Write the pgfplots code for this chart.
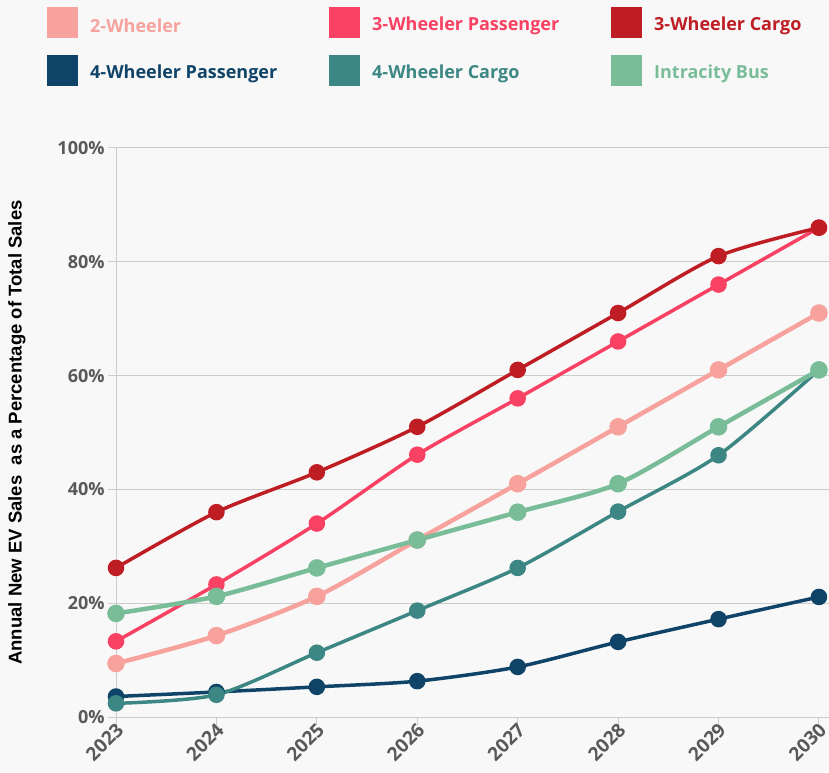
\documentclass[border=0pt]{standalone}
\usepackage{pgfplots}
\pgfplotsset{compat=1.18}
\usepackage{fontspec}
\setmainfont{Open Sans}
\newfontfamily\labelfont{Liberation Sans}
\definecolor{bg}{HTML}{F8F8F8}
\definecolor{cTwo}{HTML}{F7A29C}
\definecolor{cThreeP}{HTML}{F94263}
\definecolor{cThreeC}{HTML}{BE1D24}
\definecolor{cFourP}{HTML}{0F4468}
\definecolor{cFourC}{HTML}{3C8783}
\definecolor{cBus}{HTML}{79BD98}
\definecolor{gridc}{HTML}{CCCCCC}
\definecolor{tickc}{HTML}{595959}
\begin{document}
\begin{tikzpicture}
\useasboundingbox (0pt,0pt) rectangle (829pt,772pt);
\fill[bg] (0pt,0pt) rectangle (829pt,772pt);
% legend
\foreach \c/\t/\x/\y in {cTwo/2-Wheeler/47/749, cThreeP/3-Wheeler Passenger/329/749, cThreeC/3-Wheeler Cargo/611/749, cFourP/4-Wheeler Passenger/47/701, cFourC/4-Wheeler Cargo/329/701, cBus/Intracity Bus/611/701}{
  \fill[\c] (\x pt,\y pt-15.5pt) rectangle (\x pt+31pt,\y pt+15.5pt);
  \node[anchor=west,inner sep=0pt,text=\c,font=\fontsize{18}{20}\selectfont\bfseries] at (\x pt+43pt,\y pt-3pt) {\t};
}
\begin{axis}[
  at={(116pt,55pt)}, anchor=south west,
  scale only axis, width=713pt, height=569pt,
  xmin=2023, xmax=2030.1, ymin=0, ymax=100,
  axis x line*=bottom, axis y line*=left,
  axis line style={gridc, line width=1pt},
  xtick={2023,...,2030}, ytick={0,20,...,100},
  yticklabel={\pgfmathprintnumber{\tick}\%},
  xticklabel style={rotate=45, anchor=east, font=\fontsize{19}{21}\selectfont\bfseries, text=tickc, xshift=5pt, yshift=-4pt},
  yticklabel style={font=\fontsize{18}{20}\selectfont\bfseries, text=tickc},
  x tick label style={/pgf/number format/.cd, set thousands separator={}},
  /pgf/number format/assume math mode=true,
  ymajorgrids, grid style={gridc, line width=1pt},
  tick align=outside, major tick length=8pt,
  tick style={gridc, line width=1pt},
  ylabel={Annual New EV Sales\ \ as a Percentage of Total Sales},
  ylabel style={at={(axis description cs:-0.139,0.5)}, anchor=center, font=\labelfont\fontsize{18.5}{20}\selectfont\bfseries, text=black},
  clip=false,
  every axis plot/.append style={line width=3.5pt, smooth, tension=0.45,
    mark=*, mark size=6.5pt, mark options={draw=white, line width=1.2pt}},
]
% 2-Wheeler
\addplot[cTwo, line width=4.5pt, mark options={fill=cTwo}] coordinates {(2023,9.4) (2024,14.3) (2025,21.2) (2026,31.1) (2027,41) (2028,51) (2029,61) (2030,71)};
% 3-Wheeler Passenger
\addplot[cThreeP, mark options={fill=cThreeP}] coordinates {(2023,13.3) (2024,23.3) (2025,34) (2026,46.1) (2027,56) (2028,66) (2029,76) (2030,86)};
% 3-Wheeler Cargo
\addplot[cThreeC, mark options={fill=cThreeC}] coordinates {(2023,26.2) (2024,36) (2025,43) (2026,51) (2027,61) (2028,71) (2029,81) (2030,86)};
% 4-Wheeler Passenger
\addplot[cFourP, mark options={fill=cFourP}] coordinates {(2023,3.6) (2024,4.4) (2025,5.3) (2026,6.3) (2027,8.8) (2028,13.2) (2029,17.2) (2030,21.1)};
% 4-Wheeler Cargo
\addplot[cFourC, mark options={fill=cFourC}] coordinates {(2023,2.4) (2024,3.9) (2025,11.3) (2026,18.7) (2027,26.2) (2028,36.1) (2029,46) (2030,61)};
% Intracity Bus
\addplot[cBus, line width=4.5pt, mark options={fill=cBus}] coordinates {(2023,18.2) (2024,21.2) (2025,26.2) (2026,31.1) (2027,36) (2028,41) (2029,51) (2030,61)};
\end{axis}
\end{tikzpicture}
\end{document}
